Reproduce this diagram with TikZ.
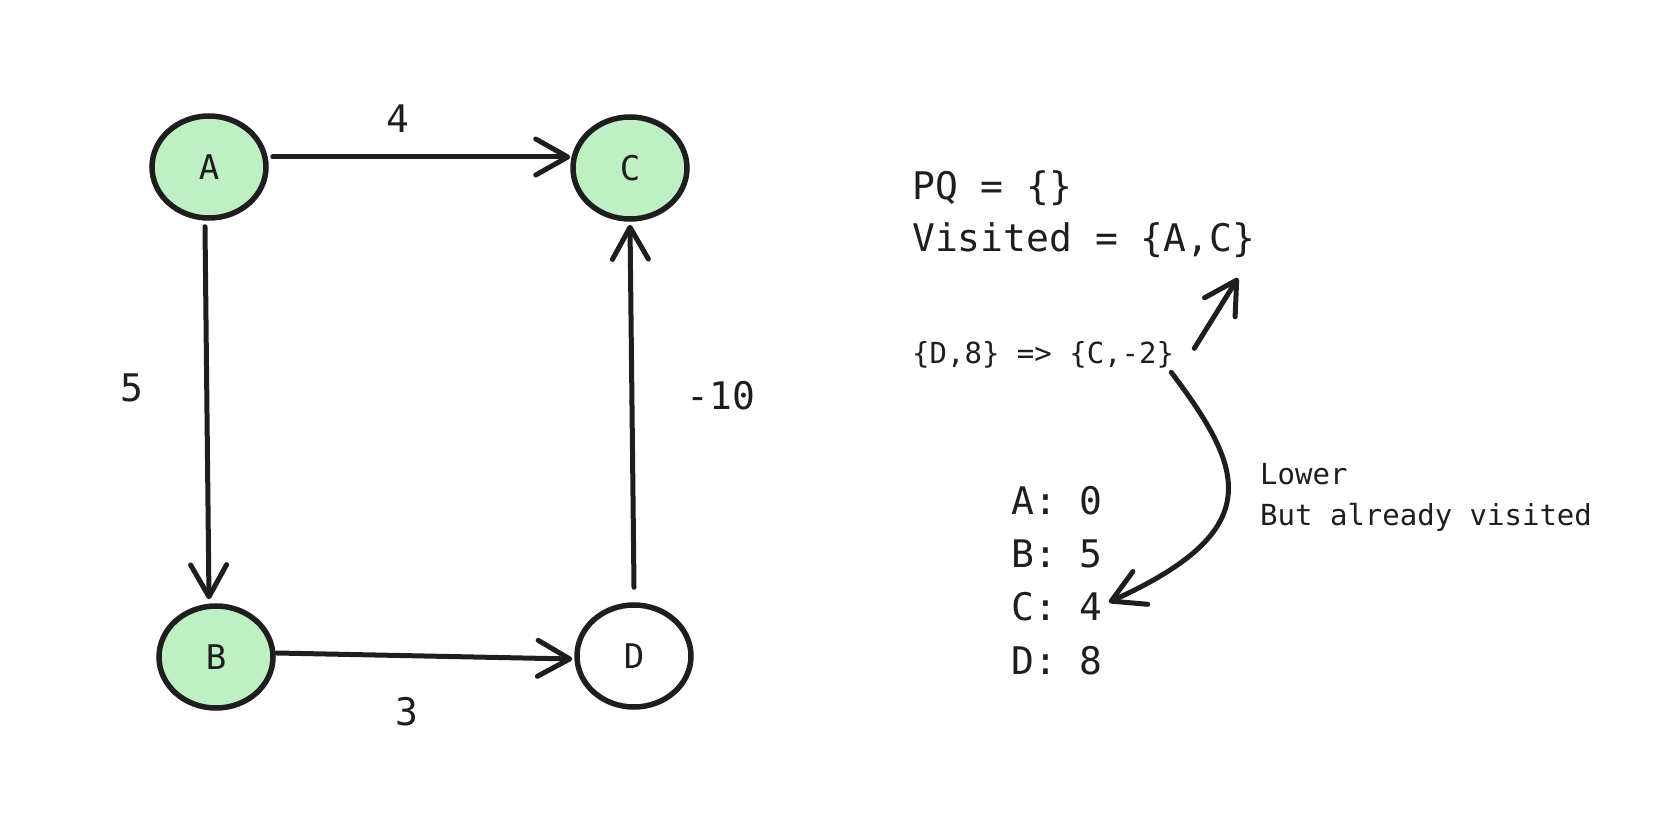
\documentclass[tikz,border=0pt]{standalone}
\usepackage{fontspec}
\setmainfont{DejaVu Sans Mono}
\usetikzlibrary{shapes.geometric,arrows.meta,calc}
\definecolor{ink}{RGB}{30,30,30}
\definecolor{done}{RGB}{190,240,195}
\begin{document}
\begin{tikzpicture}[x=1pt,y=-1pt,
  vertex/.style={ellipse,draw=ink,line width=5.5pt,minimum width=114pt,minimum height=102pt,
    inner sep=0pt,font=\fontsize{34}{40}\selectfont,text=ink},
  seen/.style={vertex,fill=done},
  link/.style={draw=ink,line width=5pt,line cap=round,
    -{Straight Barb[length=32pt,width=36pt,round]}},
  big/.style={font=\fontsize{38}{46}\selectfont,text=ink,inner sep=0pt},
  small/.style={font=\fontsize{29}{35}\selectfont,text=ink,inner sep=0pt}]
\useasboundingbox (0,0) rectangle (1666,818);

% graph vertices
\node[seen]   (A) at (209,167) {A};
\node[seen]   (C) at (630,168) {C};
\node[seen]   (B) at (216,657) {B};
\node[vertex] (D) at (634,656) {D};

% weighted edges
\draw[link] ($(A.east)+(4,-10)$) -- ($(C.west)+(0,-11)$);
\draw[link] ($(A.south)+(-4,6)$) -- ($(B.north)+(-7,-4)$);
\draw[link] ($(B.east)+(1,-4)$) -- ($(D.west)+(-2,3)$);
\draw[link] ($(D.north)+(0,-15)$) -- ($(C.south)+(0,3)$);

\node[big] (w4)  at (398,119) {4};
\node[big] (w5)  at (132,388) {5};
\node[big] (w3)  at (407,712) {3};
\node[big] (w10) at (721,396) {-10};

% algorithm state
\node[big,anchor=base west] (pq)  at (912,200) {PQ = \{\}};
\node[big,anchor=base west] (vis) at (912,252) {Visited = \{A,C\}};
\node[small,anchor=base west] (upd) at (912,363) {\{D,8\} => \{C,-2\}};
\coordinate (visarrow) at (1238,278);
\draw[link] ($(upd.east)+(20,-6)$) -- (visarrow);

\node[small,anchor=base west] (low)  at (1260,484) {Lower};
\node[small,anchor=base west] (note) at (1260,525) {But already visited};

\node[big,anchor=base west] (dA) at (1011,514) {A: 0};
\node[big,anchor=base west] (dB) at (1011,567) {B: 5};
\node[big,anchor=base west] (dC) at (1011,620) {C: 4};
\node[big,anchor=base west] (dD) at (1011,674) {D: 8};

\draw[link] ($(upd.east)+(-3,18)$) .. controls (1245,470) and (1268,530) .. ($(dC.east)+(6,-4)$);
\end{tikzpicture}
\end{document}
